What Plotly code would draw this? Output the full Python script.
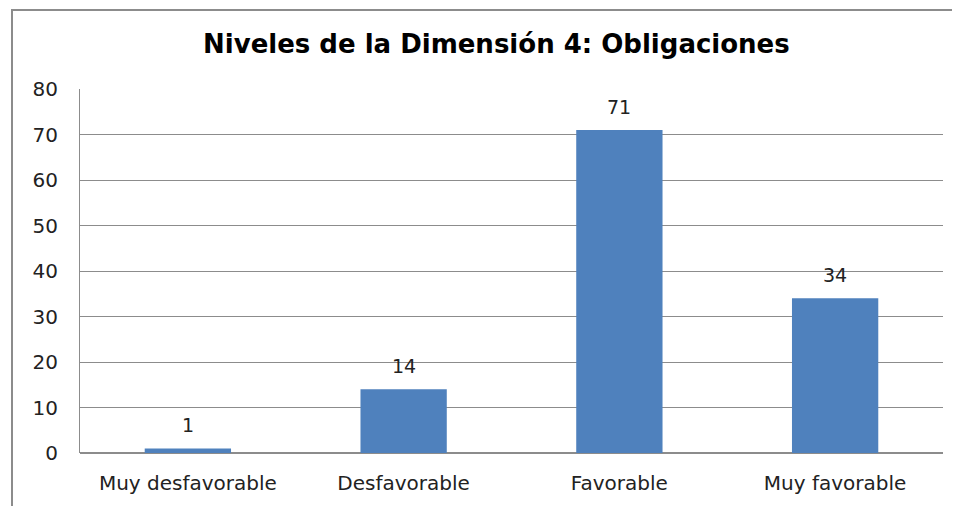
import plotly.graph_objects as go

categorias = ["Muy desfavorable", "Desfavorable", "Favorable", "Muy favorable"]
valores = [1, 14, 71, 34]
titulo = "Niveles de la Dimensión 4: Obligaciones"

AZUL = "#4F81BD"
GRIS = "#8C8C8C"
FUENTE = "DejaVu Sans, Open Sans, sans-serif"

fig = go.Figure(
    go.Bar(x=categorias, y=valores, marker=dict(color=AZUL, line=dict(width=0)), width=0.4)
)

# etiquetas de datos sobre cada barra
for c, v in zip(categorias, valores):
    fig.add_annotation(
        x=c, y=v, text=str(v), showarrow=False, yanchor="bottom", yshift=10,
        font=dict(family=FUENTE, size=19, color="#222"),
    )

# marco exterior del gráfico
fig.add_shape(
    type="rect", xref="paper", yref="paper",
    xsizemode="pixel", ysizemode="pixel", xanchor=0, yanchor=1,
    x0=-68, x1=920, y0=-500, y1=79,
    line=dict(color=GRIS, width=2), fillcolor="rgba(0,0,0,0)", layer="below",
)

# la página tiene 8px de margen en el body
fig.update_layout(
    width=952, height=498,
    margin=dict(l=72, r=17, t=81, b=53, autoexpand=False),
    paper_bgcolor="white", plot_bgcolor="white",
    showlegend=False,
    title=dict(
        text="<b>" + titulo + "</b>", x=0.513, xanchor="center", y=0.928, yanchor="middle",
        font=dict(family="DejaVu Sans, sans-serif", size=26, color="black"),
    ),
    font=dict(family=FUENTE, size=20, color="#222"),
)
fig.update_xaxes(
    showgrid=False, showline=False, ticks="", ticklabelstandoff=16, automargin=False,
)
fig.update_yaxes(
    range=[0, 80], dtick=10, showgrid=True, gridcolor=GRIS, gridwidth=1,
    showline=True, linecolor=GRIS, linewidth=1, zeroline=True, zerolinecolor=GRIS,
    ticks="", ticklabelstandoff=17, automargin=False,
)

fig.write_html("out.html")
